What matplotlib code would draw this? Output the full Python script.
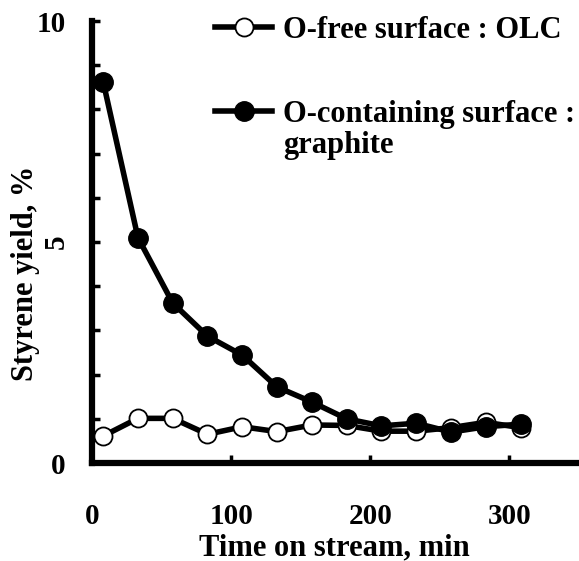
import matplotlib
matplotlib.use('Agg')
from matplotlib import pyplot as plt
from matplotlib.ticker import MultipleLocator
from matplotlib.transforms import ScaledTranslation

# time on stream, min
time_min = [8, 33, 58, 83, 108, 133, 158, 183, 208, 233, 258, 283, 308]
# styrene yield, %
olc_yield = [0.61, 1.01, 1.01, 0.65, 0.82, 0.71, 0.86, 0.85, 0.72, 0.72, 0.80, 0.92, 0.80]
graphite_yield = [8.63, 5.10, 3.62, 2.87, 2.44, 1.72, 1.38, 1.00, 0.84, 0.90, 0.70, 0.82, 0.88]

x_ticks = [0, 100, 200, 300]
y_ticks = [0, 5, 10]
y_labels = ['0', '', '10']  # the "5" is drawn turned on its side, below

plt.rcParams['font.family'] = ['Liberation Serif', 'DejaVu Serif']
plt.rcParams['font.weight'] = 'bold'

W, H = 579, 561
fig = plt.figure(figsize=(W / 100, H / 100), dpi=100)
ax = fig.add_axes([92 / W, 1 - 463 / H, (W - 92) / W, (463 - 21) / H])

l1, = ax.plot(time_min, olc_yield, color='black', lw=4, marker='o', ms=13,
              mfc='white', mec='black', mew=1.3, clip_on=False, zorder=3)
l2, = ax.plot(time_min, graphite_yield, color='black', lw=4, marker='o', ms=14,
              mfc='black', mec='black', clip_on=False, zorder=4)

ax.set_xlim(0, 350)
ax.set_ylim(0, 10)

for s in ['top', 'right']:
    ax.spines[s].set_visible(False)
for s in ['left', 'bottom']:
    ax.spines[s].set_linewidth(4.5)

ax.set_xticks(x_ticks)
ax.set_xticklabels([str(v) for v in x_ticks])
ax.set_yticks(y_ticks)
ax.set_yticklabels(y_labels)
ax.yaxis.set_minor_locator(MultipleLocator(1))
ax.tick_params(axis='x', direction='in', length=6, width=2.5, pad=29, labelsize=21)
ax.tick_params(axis='y', which='both', direction='in', length=6, width=2.5, pad=19, labelsize=21)

# rotated "5" label like in the original
ax.text(0, y_ticks[1], '5', rotation=90, ha='right', va='center', fontsize=21,
        fontweight='bold',
        transform=ax.get_yaxis_transform() + ScaledTranslation(-0.22, 0, fig.dpi_scale_trans))

fig.text(334 / W, 1 - 548 / H, 'Time on stream, min', ha='center', va='center',
         fontsize=22, fontweight='bold')
fig.text(26 / W, 1 - 273 / H, 'Styrene yield, %', ha='center', va='center',
         rotation=90, fontsize=22, fontweight='bold')

leg = ax.legend([l1, l2], ['O-free surface : OLC', 'O-containing surface :'],
                loc='upper left', bbox_to_anchor=(215 / W, 1 - 16 / H),
                bbox_transform=fig.transFigure, frameon=False, fontsize=22,
                handlelength=1.87, handletextpad=0.36, labelspacing=1.8,
                borderpad=0, borderaxespad=0)
fig.text(283 / W, 1 - 145 / H, 'graphite', ha='left', va='center',
         fontsize=22, fontweight='bold')

fig.savefig('out.png', dpi=100)
